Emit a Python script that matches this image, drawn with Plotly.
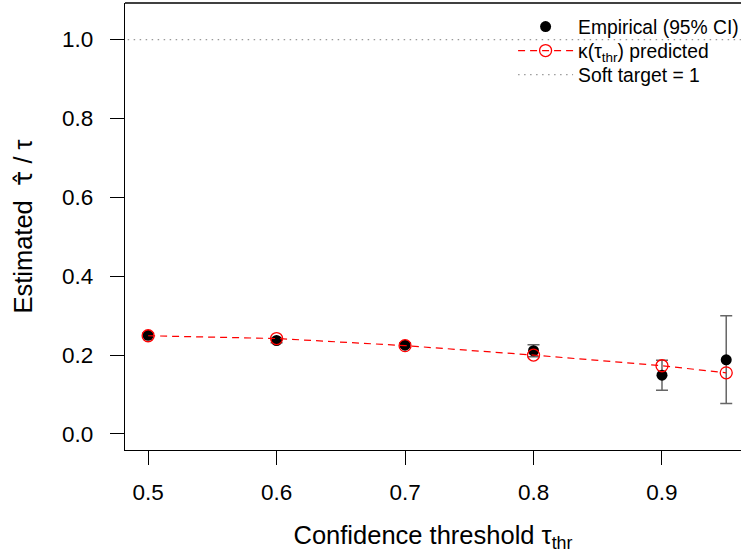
import plotly.graph_objects as go

thresholds = [0.5, 0.6, 0.7, 0.8, 0.9, 0.95]
empirical = [0.250, 0.237, 0.225, 0.211, 0.149, 0.188]
ci_low = [0.244, 0.231, 0.219, 0.196, 0.111, 0.077]
ci_high = [0.256, 0.243, 0.231, 0.226, 0.187, 0.300]
predicted = [0.249, 0.242, 0.224, 0.200, 0.173, 0.155]
soft_target = 1.0

x_ticks = [0.5, 0.6, 0.7, 0.8, 0.9]
y_ticks = [0.0, 0.2, 0.4, 0.6, 0.8, 1.0]

FONT = "Liberation Sans, Arial, sans-serif"
TICK_SIZE = 22.5
TITLE_SIZE = 25.5
LEG_SIZE = 19.3
DOT = "1.5px,4.5px"

fig = go.Figure()

# soft target line
fig.add_trace(go.Scatter(
    x=[0.40, 1.05], y=[soft_target, soft_target], mode="lines",
    line=dict(color="#999999", width=1.2, dash=DOT),
    name="Soft target = 1", showlegend=False, hoverinfo="skip"))

fig.add_trace(go.Scatter(
    x=thresholds, y=empirical, mode="markers",
    marker=dict(color="black", size=11, symbol="circle"),
    error_y=dict(type="data", symmetric=False,
                 array=[h - e for h, e in zip(ci_high, empirical)],
                 arrayminus=[e - l for e, l in zip(empirical, ci_low)],
                 color="#666666", thickness=1.5, width=6),
    name="Empirical (95% CI)", legend="legend"))

fig.add_trace(go.Scatter(
    x=thresholds, y=predicted, mode="lines+markers",
    line=dict(color="#FF0000", width=1.2, dash="7px,5px"),
    marker=dict(symbol="circle-open", color="#FF0000", size=12,
                line=dict(width=1.3, color="#FF0000")),
    name="κ(τ<sub>thr</sub>) predicted", legend="legend2"))

# legend entry for soft target
fig.add_trace(go.Scatter(
    x=[None], y=[None], mode="lines",
    line=dict(color="#999999", width=1.2, dash=DOT),
    name="Soft target = 1", legend="legend3"))

fig.add_shape(type="line", xref="paper", yref="paper", x0=0, x1=1, y0=1, y1=1,
              line=dict(color="black", width=1.3))

leg_common = dict(x=0.630, xanchor="left", yanchor="middle",
                  bgcolor="rgba(0,0,0,0)", font=dict(size=LEG_SIZE, family=FONT),
                  itemwidth=55, borderwidth=0)

fig.update_layout(
    width=741, height=560,
    margin=dict(l=125, r=0, t=3, b=110, autoexpand=False),
    paper_bgcolor="white", plot_bgcolor="white",
    font=dict(family=FONT, size=TICK_SIZE, color="black"),
    showlegend=True,
    legend=dict(y=1 - 24 / 447, **leg_common),
    legend2=dict(y=1 - 48 / 447, **leg_common),
    legend3=dict(y=1 - 72 / 447, **leg_common),
    xaxis=dict(range=[0.482, 0.9615], tickvals=x_ticks,
               ticktext=[f"{v:.1f}" for v in x_ticks],
               showgrid=False, zeroline=False, showline=True, linecolor="black",
               linewidth=1.3, ticks="outside", ticklen=14, tickwidth=1.3,
               tickcolor="black", tickfont=dict(size=TICK_SIZE), ticklabelstandoff=8,
               title=dict(text="Confidence threshold τ<sub>thr</sub>",
                          font=dict(size=TITLE_SIZE), standoff=21)),
    yaxis=dict(range=[-0.0406, 1.0926], tickvals=y_ticks,
               ticktext=[f"{v:.1f}" for v in y_ticks],
               showgrid=False, zeroline=False, showline=True, linecolor="black",
               linewidth=1.3, ticks="outside", ticklen=14, tickwidth=1.3,
               tickcolor="black", tickfont=dict(size=TICK_SIZE), ticklabelstandoff=12,
               title=dict(text="Estimated  <span style='font-family:DejaVu Sans'>τ\u0302</span> / τ",
                          font=dict(size=TITLE_SIZE), standoff=22)),
)

fig.write_html("out.html")
